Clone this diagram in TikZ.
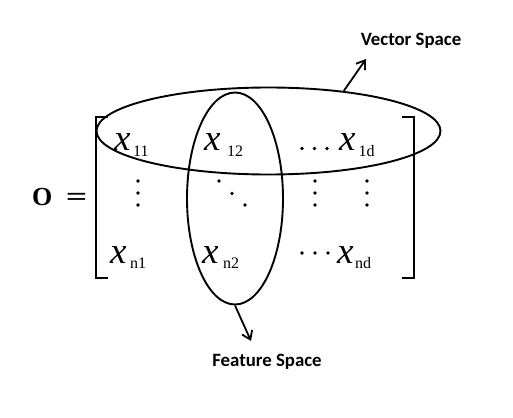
\documentclass[tikz,border=0pt]{standalone}
\usepackage{fontspec}
\setmainfont{Liberation Serif}
\newfontfamily\lblfont{Carlito}
\usetikzlibrary{arrows.meta,shapes.geometric}
\tikzset{
  ent/.style={inner sep=0pt, anchor=base west, font=\fontsize{37}{37}\selectfont\itshape},
  sub/.style={inner sep=0pt, anchor=base west, font=\fontsize{16}{16}\selectfont},
  lbl/.style={inner sep=0pt, font=\fontsize{18.8}{18.8}\selectfont\lblfont\bfseries},
  ring/.style={draw, line width=1.9pt, ellipse, inner sep=0pt},
  brk/.style={line width=2.2pt},
  pt/.style={fill, radius=1.9pt},
  arr/.style={line width=1.8pt, -{Straight Barb[length=8pt,width=11pt,line width=1.8pt]}}
}
\begin{document}
\begin{tikzpicture}[x=1pt,y=-1pt]
\useasboundingbox (0,0) rectangle (513,417);
% O =
\node[inner sep=0pt, anchor=base west, font=\fontsize{26}{26}\selectfont\bfseries] (O) at (32,205) {O};
\node[inner sep=0pt, font=\fontsize{26}{26}\selectfont\bfseries] (eq) at (76.5,199) {\scalebox{1.45}[1]{=}};
% brackets
\draw[brk] (108,117) -- (96,117) -- (96,278) -- (108,278);
\draw[brk] (402,117) -- (414,117) -- (414,278) -- (402,278);
% row 1
\node[ent] (x11) at (114,150) {x};
\node[sub] (s11) at (133,156) {11};
\node[ent] (x12) at (204,150) {x};
\node[sub] (s12) at (227,156) {12};
\foreach \xx in {302,314.5,327} \fill[pt] (\xx,148.5) circle;
\node[ent] (x1d) at (339,150) {x};
\node[sub] (s1d) at (358.5,156) {1d};
% row 2
\foreach \yy in {181,193,205} {\fill[pt] (138,\yy) circle; \fill[pt] (315,\yy) circle; \fill[pt] (367,\yy) circle;}
\fill[pt] (219,181) circle; \fill[pt] (232,193.5) circle; \fill[pt] (245,205) circle;
% row 3
\node[ent] (xn1) at (110,263) {x};
\node[sub] (sn1) at (130,268) {n1};
\node[ent] (xn2) at (202,263) {x};
\node[sub] (sn2) at (223,268) {n2};
\foreach \xx in {302,315,328} \fill[pt] (\xx,253) circle;
\node[ent] (xnd) at (337,263) {x};
\node[sub] (snd) at (355,268) {nd};
% ellipses
\node[ring, minimum width=344pt, minimum height=87pt] (vs) at (268.5,131) {};
\node[ring, minimum width=96pt, minimum height=212pt] (fs) at (235,198.5) {};
% labels and arrows
\node[lbl] (vsl) at (411,41) {Vector Space};
\node[lbl] (fsl) at (267,362) {Feature Space};
\coordinate (va) at (366,59);
\coordinate (fa) at (251,341);
\draw[arr] (vs.28) -- (va);
\draw[arr] (fs.south) -- (fa);
\end{tikzpicture}
\end{document}
